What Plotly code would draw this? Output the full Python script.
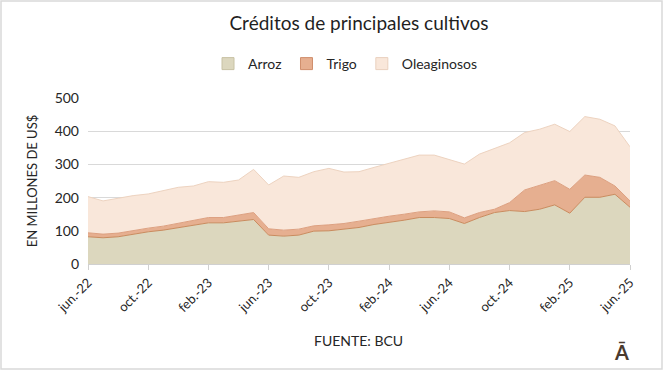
import plotly.graph_objects as go

months = ["jun.-22","jul.-22","ago.-22","sep.-22","oct.-22","nov.-22","dic.-22","ene.-23","feb.-23",
          "mar.-23","abr.-23","may.-23","jun.-23","jul.-23","ago.-23","sep.-23","oct.-23","nov.-23",
          "dic.-23","ene.-24","feb.-24","mar.-24","abr.-24","may.-24","jun.-24","jul.-24","ago.-24",
          "sep.-24","oct.-24","nov.-24","dic.-24","ene.-25","feb.-25","mar.-25","abr.-25","may.-25","jun.-25"]

arroz = [82, 79, 82, 90, 97, 102, 109, 117, 124, 124, 129, 134, 87, 84, 87, 99, 100, 105, 110,
         119, 125, 132, 140, 140, 137, 122, 140, 155, 161, 158, 165, 178, 153, 201, 201, 210, 171]
trigo = [12, 11, 11, 11, 11, 12, 13, 13, 16, 16, 18, 21, 19, 18, 18, 16, 18, 17, 19,
         18, 19, 18, 17, 20, 20, 17, 15, 10, 24, 65, 71, 73, 72, 67, 60, 25, 19]
oleaginosos = [109, 100, 105, 105, 103, 106, 109, 105, 108, 106, 106, 130, 132, 163, 156, 163, 170, 155, 149,
               154, 159, 165, 171, 168, 158, 162, 176, 183, 180, 173, 170, 170, 174, 176, 175, 181, 163]

tick_labels = ["jun.-22","oct.-22","feb.-23","jun.-23","oct.-23","feb.-24","jun.-24","oct.-24","feb.-25","jun.-25"]

FONT = "Lato"
L, R, T, B = 88, 33, 98, 106
W, H = 663, 370
PW, PH = W - L - R, H - T - B

series = [
    ("Arroz", arroz, "#C98B5E", "#DCD7BE", "#C8C2A4"),
    ("Trigo", trigo, "#DDA080", "#E6AF90", "#D08E6C"),
    ("Oleaginosos", oleaginosos, "#EDD3C0", "#F9E7DA", "#E9D0BE"),
]

fig = go.Figure()
for name, vals, lc, fc, _ in series:
    fig.add_trace(go.Scatter(x=months, y=vals, name=name, stackgroup="one", mode="lines",
                             line=dict(color=lc, width=1), fillcolor=fc, showlegend=False))
for name, vals, lc, fc, bc in series:
    fig.add_trace(go.Bar(x=[months[0]], y=[None], name=name, marker=dict(color=fc, line=dict(color=bc, width=1)),
                         showlegend=True))

fig.update_layout(
    width=W, height=H,
    margin=dict(l=L, r=R, t=T, b=B, autoexpand=False),
    paper_bgcolor="white", plot_bgcolor="white",
    font=dict(family=FONT, size=13, color="#262626"),
    title=dict(text="Créditos de principales cultivos", x=0.5, xref="paper", xanchor="center",
               yref="container", y=1 - 23 / H, yanchor="middle", font=dict(size=19, color="#1f1f1f")),
    legend=dict(orientation="h", x=(208 - L) / PW, xref="paper", xanchor="left", yref="container", y=1 - 64 / H,
                yanchor="middle", font=dict(size=14), traceorder="normal", itemwidth=30, tracegroupgap=0),
    showlegend=True,
    barmode="overlay",
)
fig.update_xaxes(type="category", range=[0, len(months) - 1], tickmode="array",
                 tickvals=tick_labels, ticktext=tick_labels, tickangle=-45,
                 ticks="outside", ticklen=5, tickcolor="#d0d0d0", showgrid=False,
                 showline=True, linecolor="#d0d0d0", tickfont=dict(size=13), automargin=False)
fig.update_yaxes(range=[0, 500], dtick=100, showgrid=True, gridcolor="#d9d9d9", zeroline=False,
                 tickfont=dict(size=14), ticks="", ticklabelstandoff=8, automargin=False,
                 title=dict(text="EN MILLONES DE US$", font=dict(size=13), standoff=14))

fig.add_annotation(text="FUENTE: BCU", xref="paper", yref="paper", x=(358 - L) / PW, y=(H - 340 - B) / PH,
                   showarrow=False, font=dict(size=14, color="#262626"), xanchor="center", yanchor="middle")
fig.add_annotation(text="<b>Ā</b>", xref="paper", yref="paper", x=(621 - L) / PW, y=(H - 352 - B) / PH,
                   showarrow=False, font=dict(size=20, color="#4a3a2e"), xanchor="center", yanchor="middle")
fig.add_shape(type="rect", xref="paper", yref="paper",
              x0=(1 - L) / PW, x1=(W - 1 - L) / PW,
              y0=(-B + 1) / PH, y1=(PH + T - 1) / PH,
              line=dict(color="#d9d9d9", width=1.5), fillcolor="rgba(0,0,0,0)", layer="above")

fig.write_html("out.html", config={"displayModeBar": False},
               post_script="document.body.style.margin='0';document.body.style.overflow='hidden';")
